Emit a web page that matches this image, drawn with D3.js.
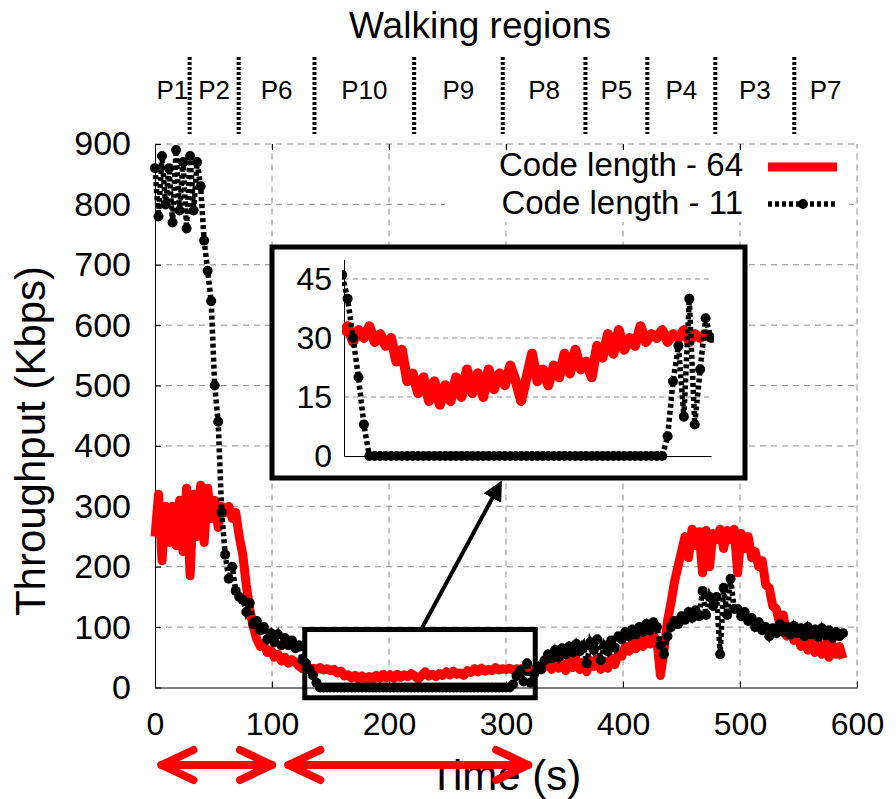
<!DOCTYPE html>
<html>
<head>
<meta charset="utf-8">
<script src="https://cdn.jsdelivr.net/npm/d3@7"></script>
<style>
body { margin: 0; background: #fff; }
text { font-family: "Liberation Sans", Arial, Helvetica, sans-serif; fill: #000; }
</style>
</head>
<body>
<div id="viz"></div>
<script>

// one sample every 3 s, starting at t = 0
var step = 3;

var code64 = [
	250,320,210,300,240,300,235,310,225,330,
	185,320,250,335,240,330,280,310,265,300,
	290,300,280,290,250,220,170,130,100,80,
	68,72,58,62,50,55,44,50,40,46,
	42,36,31,33,29,32,30,33,29,31,
	28,30,24,27,19,21,16,20,14,19,
	13,18,14,20,15,22,16,21,15,22,
	17,21,18,23,19,14,20,26,19,22,
	18,23,20,26,21,27,22,24,20,28,
	25,31,26,32,27,30,28,33,29,31,
	30,32,29,31,30,32,29,31,30,31,
	30,35,42,30,45,32,40,28,44,33,
	47,30,42,26,45,35,48,30,44,32,
	48,38,55,52,68,60,75,64,78,68,
	82,72,86,78,20,60,110,140,175,200,
	225,250,215,262,235,258,190,260,200,255,
	245,262,230,260,245,262,190,255,230,250,
	215,225,200,210,170,165,135,130,105,120,
	85,100,78,90,68,85,62,78,58,75,
	55,72,50,70,55,68,48
];

var code11 = [
	860,780,880,800,860,770,890,790,870,760,
	880,790,870,830,740,690,640,500,440,290,
	220,180,200,160,150,145,125,140,105,110,
	95,100,80,90,75,88,70,82,70,78,
	65,70,46,40,30,20,8,0,0,0,
	0,0,0,0,0,0,0,0,0,0,
	0,0,0,0,0,0,0,0,0,0,
	0,0,0,0,0,0,0,0,0,0,
	0,0,0,0,0,0,0,0,0,0,
	0,0,0,0,0,0,0,0,0,0,
	0,0,5,19,28,10,40,8,22,35,
	30,45,55,48,62,50,65,55,68,58,
	72,60,70,40,75,62,80,45,70,60,
	78,66,85,80,92,85,96,88,100,92,
	105,95,108,100,70,55,85,100,110,105,
	118,112,125,115,128,118,160,120,150,135,
	150,55,165,120,180,130,130,118,125,110,
	115,100,108,95,100,85,98,90,105,92,
	100,88,102,90,98,85,100,88,96,84,
	98,86,95,82,92,85,90
];

var seriesNames = ["Code length - 64", "Code length - 11"];
var xTicks = [0, 100, 200, 300, 400, 500, 600];
var yTicks = [0, 100, 200, 300, 400, 500, 600, 700, 800, 900];
var insetTicks = [0, 15, 30, 45];

var regionNames = ["P1","P2","P6","P10","P9","P8","P5","P4","P3","P7"];
var regionBounds = [29.6, 71.5, 136.3, 221.5, 297.2, 367.9, 420.8, 478.9, 546.4];

var zoomTime = [128, 325];     // zoomed window, s
var zoomKbps = [-17, 96];
var insetTime = [127, 330];
var spans = [[5.5, 100], [114, 319]];


var red = "#ff0000";
var grid = "#8c8c8c";

var svg = d3.select("#viz")
	.append("svg")
	.attr("width", 896)
	.attr("height", 799);

var x = d3.scaleLinear().domain([0, 600]).range([155, 857]);
var y = d3.scaleLinear().domain([0, 900]).range([687.5, 144]);

var d64 = code64.map(function(v, i) { return { t: i * step, v: v } });
var d11 = code11.map(function(v, i) { return { t: i * step, v: v } });

// grid
svg.selectAll(".hgrid")
	.data(yTicks.slice(1)).enter()
	.append("line")
	.attr("x1", x(0)).attr("x2", x(600))
	.attr("y1", function(d) { return y(d) }).attr("y2", function(d) { return y(d) })
	.attr("stroke", grid).attr("stroke-dasharray", "6,5");

svg.selectAll(".vgrid")
	.data(xTicks.slice(1)).enter()
	.append("line")
	.attr("y1", y(0)).attr("y2", y(900))
	.attr("x1", function(d) { return x(d) }).attr("x2", function(d) { return x(d) })
	.attr("stroke", grid).attr("stroke-dasharray", "6,5");

// axes
var yAxis = svg.append("g")
	.attr("transform", "translate(" + x(0) + ",0)")
	.call(d3.axisLeft(y).tickValues(yTicks).tickSizeInner(-6).tickSizeOuter(0).tickPadding(24));

var xAxis = svg.append("g")
	.attr("transform", "translate(0," + y(0) + ")")
	.call(d3.axisBottom(x).tickValues(xTicks).tickSizeInner(-6).tickSizeOuter(0).tickPadding(25));

yAxis.selectAll("text").style("font-size", "34px");
xAxis.selectAll("text").style("font-size", "32px");
svg.selectAll(".domain").attr("stroke", "#000");

// series
var line = d3.line()
	.x(function(d) { return x(d.t) })
	.y(function(d) { return y(d.v) });

svg.append("path")
	.datum(d64)
	.attr("d", line)
	.attr("fill", "none")
	.attr("stroke", red)
	.attr("stroke-width", 9)
	.attr("stroke-linejoin", "round");

svg.append("path")
	.datum(d11)
	.attr("d", line)
	.attr("fill", "none")
	.attr("stroke", "#000")
	.attr("stroke-width", 5.5)
	.attr("stroke-dasharray", "4,3");

svg.selectAll(".pt11")
	.data(d11).enter()
	.append("circle")
	.attr("cx", function(d) { return x(d.t) })
	.attr("cy", function(d) { return y(d.v) })
	.attr("r", 5);

// zoom window
svg.append("rect")
	.attr("x", x(zoomTime[0]))
	.attr("y", y(zoomKbps[1]))
	.attr("width", x(zoomTime[1]) - x(zoomTime[0]))
	.attr("height", y(zoomKbps[0]) - y(zoomKbps[1]))
	.attr("fill", "none")
	.attr("stroke", "#000")
	.attr("stroke-width", 5);

// legend (opaque)
svg.append("rect")
	.attr("x", 445).attr("y", 150).attr("width", 404).attr("height", 72)
	.attr("fill", "#fff");

svg.selectAll(".legtext")
	.data(seriesNames).enter()
	.append("text")
	.attr("x", 743)
	.attr("y", function(d, i) { return 176 + i * 38 })
	.attr("text-anchor", "end")
	.style("font-size", "33px")
	.text(function(d) { return d });

svg.append("line")
	.attr("x1", 768).attr("x2", 837).attr("y1", 167).attr("y2", 167)
	.attr("stroke", red).attr("stroke-width", 9);

svg.append("line")
	.attr("x1", 768).attr("x2", 837).attr("y1", 204).attr("y2", 204)
	.attr("stroke", "#000").attr("stroke-width", 5.5).attr("stroke-dasharray", "4,3");

svg.append("circle").attr("cx", 803).attr("cy", 204).attr("r", 5);

// top mirror ticks
svg.append("g")
	.attr("transform", "translate(0," + y(900) + ")")
	.call(d3.axisTop(x).tickValues(xTicks.slice(1, -1)).tickSizeInner(-6).tickSizeOuter(0).tickFormat(""))
	.select(".domain").remove();

// inset
var ix = d3.scaleLinear().domain(insetTime).range([344, 711]);
var iy = d3.scaleLinear().domain([0, 50]).range([456, 259.3]);

svg.append("rect")
	.attr("x", 272).attr("y", 247).attr("width", 473).attr("height", 231)
	.attr("fill", "#fff")
	.attr("stroke", "#000")
	.attr("stroke-width", 5);

svg.append("clipPath").attr("id", "insetclip")
	.append("rect")
	.attr("x", 342).attr("y", 250).attr("width", 372).attr("height", 222);

svg.selectAll(".igrid")
	.data(insetTicks.slice(1)).enter()
	.append("line")
	.attr("x1", 344).attr("x2", 711)
	.attr("y1", function(d) { return iy(d) }).attr("y2", function(d) { return iy(d) })
	.attr("stroke", grid).attr("stroke-dasharray", "5,4");

var iyAxis = svg.append("g")
	.attr("transform", "translate(344,0)")
	.call(d3.axisLeft(iy).tickValues(insetTicks).tickSize(0).tickPadding(12));
iyAxis.selectAll("text").style("font-size", "32px");

svg.append("g")
	.attr("transform", "translate(0,456)")
	.call(d3.axisBottom(ix).tickValues([]).tickSizeOuter(0));

svg.selectAll(".domain").attr("stroke", "#000");

var inRange = function(d) { return d.t >= insetTime[0] - 2 && d.t <= insetTime[1] + 1 };

var iline = d3.line()
	.x(function(d) { return ix(d.t) })
	.y(function(d) { return iy(d.v) });

var ins = svg.append("g").attr("clip-path", "url(#insetclip)");

ins.append("path")
	.datum(d64.filter(inRange))
	.attr("d", iline)
	.attr("fill", "none")
	.attr("stroke", red)
	.attr("stroke-width", 10)
	.attr("stroke-linejoin", "round");

ins.append("path")
	.datum(d11.filter(inRange))
	.attr("d", iline)
	.attr("fill", "none")
	.attr("stroke", "#000")
	.attr("stroke-width", 5.5)
	.attr("stroke-dasharray", "4,3");

ins.selectAll(".ipt")
	.data(d11.filter(inRange)).enter()
	.append("circle")
	.attr("cx", function(d) { return ix(d.t) })
	.attr("cy", function(d) { return iy(d.v) })
	.attr("r", 5);

// arrow to the inset
svg.append("defs").append("marker")
	.attr("id", "head")
	.attr("viewBox", "0 0 10 10")
	.attr("refX", 8).attr("refY", 5)
	.attr("markerWidth", 5).attr("markerHeight", 5)
	.attr("orient", "auto")
	.append("path")
	.attr("d", "M0,0 L10,5 L0,10 z");

svg.append("line")
	.attr("x1", 422).attr("y1", 628)
	.attr("x2", 500).attr("y2", 484)
	.attr("stroke", "#000").attr("stroke-width", 4)
	.attr("marker-end", "url(#head)");

// walking regions
svg.append("text")
	.attr("x", 480).attr("y", 38)
	.attr("text-anchor", "middle")
	.style("font-size", "37px")
	.text("Walking regions");

svg.selectAll(".sep")
	.data(regionBounds).enter()
	.append("line")
	.attr("x1", function(d) { return x(d) }).attr("x2", function(d) { return x(d) })
	.attr("y1", 57).attr("y2", 134)
	.attr("stroke", "#000").attr("stroke-width", 4).attr("stroke-dasharray", "3,2");

var edges = [0].concat(regionBounds, [600]);
svg.selectAll(".region")
	.data(regionNames).enter()
	.append("text")
	.attr("x", function(d, i) { return x((edges[i] + edges[i + 1]) / 2) })
	.attr("y", 99)
	.attr("text-anchor", "middle")
	.style("font-size", "26px")
	.text(function(d) { return d });

// axis titles
svg.append("text")
	.attr("transform", "translate(45,441) rotate(-90)")
	.attr("text-anchor", "middle")
	.style("font-size", "42px")
	.text("Throughput (Kbps)");

svg.append("text")
	.attr("x", 505).attr("y", 790)
	.attr("text-anchor", "middle")
	.style("font-size", "42px")
	.text("Time (s)");

// red double arrows under the axis
var arrows = svg.selectAll(".span")
	.data(spans).enter()
	.append("g")
	.attr("fill", "none")
	.attr("stroke", red)
	.attr("stroke-width", 8)
	.attr("stroke-linecap", "round")
	.attr("stroke-linejoin", "round");

arrows.append("line")
	.attr("x1", function(d) { return x(d[0]) }).attr("x2", function(d) { return x(d[1]) })
	.attr("y1", 765).attr("y2", 765);

arrows.append("polyline")
	.attr("points", function(d) { var a = x(d[0]); return (a + 32) + ",750 " + a + ",765 " + (a + 32) + ",780" });

arrows.append("polyline")
	.attr("points", function(d) { var b = x(d[1]); return (b - 32) + ",750 " + b + ",765 " + (b - 32) + ",780" });

</script>
</body>
</html>
